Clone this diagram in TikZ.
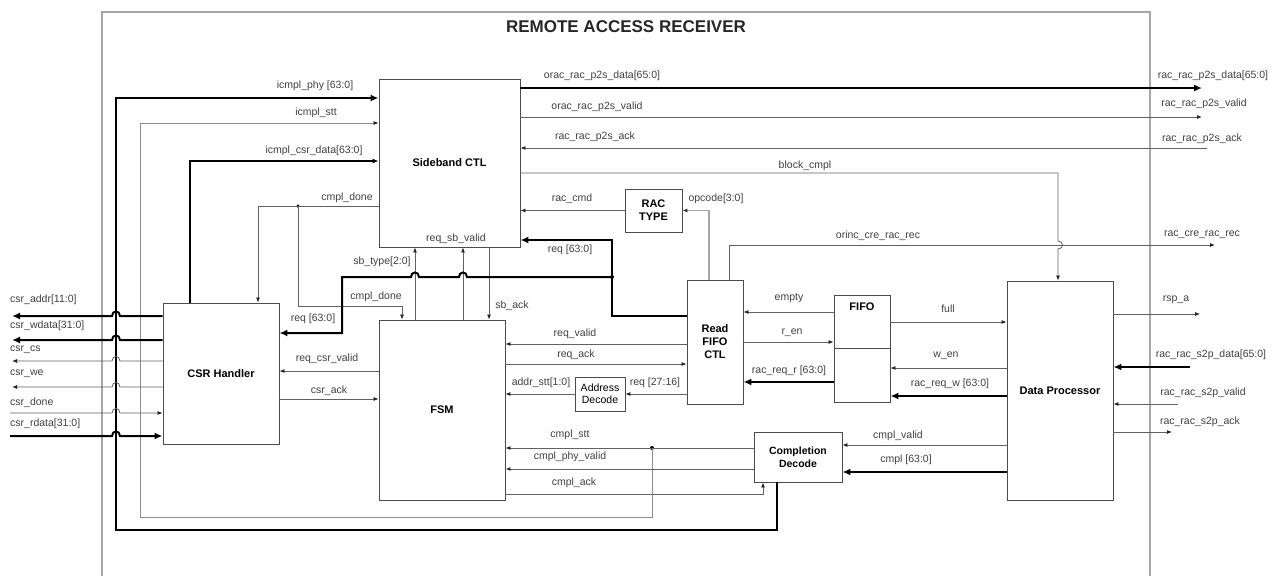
\documentclass[tikz,border=0pt]{standalone}
\usepackage{fontspec}
\setmainfont{Liberation Sans}
\usetikzlibrary{arrows.meta}
\begin{document}
\begin{tikzpicture}[x=1pt,y=-1pt,
 blk/.style={draw=black!70, line width=0.9pt, fill=white, inner sep=0pt, font=\fontsize{11}{13}\selectfont\bfseries, align=center},
 sig/.style={draw=black!62, line width=0.8pt, -{Latex[length=5pt,width=4pt,color=black!85]}},
 sign/.style={draw=black!62, line width=0.8pt},
 lite/.style={draw=black!35, line width=1.2pt},
 bus/.style={draw=black, line width=2pt, -{Latex[length=8pt,width=7pt]}},
 busn/.style={draw=black, line width=2pt},
 lbl/.style={font=\fontsize{10.5}{12}\selectfont, text=black!75, inner sep=0pt},
 dot/.style={circle, fill=black, inner sep=0pt, minimum size=4pt},
 frame/.style={draw=black!35, line width=1.5pt}]
\useasboundingbox (0,0) rectangle (1285,576);
% outer frame
\draw[frame] (102,576) -- (102,12) -- (1150,12) -- (1150,576);
\node[font=\fontsize{17}{20}\selectfont\bfseries, text=black!85] (title) at (626,27) {REMOTE ACCESS RECEIVER};

% blocks
\node[blk, minimum width=141pt, minimum height=168pt] (sb) at (449.5,163) {Sideband CTL};
\node[blk, minimum width=116pt, minimum height=141pt] (csr) at (221,373.5) {CSR Handler};
\node[blk, minimum width=126pt, minimum height=180pt] (fsm) at (442,410) {FSM};
\node[blk, minimum width=57pt, minimum height=43pt] (rac) at (653.5,210.5) {RAC\\TYPE};
\node[blk, minimum width=56pt, minimum height=124pt] (rf) at (715,342) {Read\\FIFO\\CTL};
\node[blk, minimum width=56pt, minimum height=107pt] (fifo) at (862,348.5) {};
\node[font=\fontsize{11}{13}\selectfont\bfseries] (fifol) at (862,307) {FIFO};
\draw[draw=black!70, line width=0.9pt] (fifo.west |- 0,348) -- (fifo.east |- 0,348);
\node[blk, minimum width=106pt, minimum height=219pt] (dp) at (1060,390.5) {Data Processor};
\node[blk, font=\fontsize{10.5}{12}\selectfont, minimum width=50pt, minimum height=34pt] (ad) at (600,394) {Address\\Decode};
\node[blk, font=\fontsize{10.5}{12.5}\selectfont\bfseries, minimum width=88pt, minimum height=50pt] (cd) at (798,457) {Completion\\Decode};
\node[lbl] (rsv) at (456,239) {req\_sb\_valid};

% loops from completion decode
\draw[bus] (cd.south -| 777,0) -- (777,530) -- (116,530) -- (116,98) -- (sb.west |- 0,98);
\node[lbl] (l1) at (315,86) {icmpl\_phy [63:0]};
\node[dot] (j1) at (652,448) {};
\draw[sig, draw=black!45] (j1.center) -- (652,517) -- (140,517) -- (140,123) -- (sb.west |- 0,123);
\node[lbl] (l2) at (316,113) {icmpl\_stt};
\draw[draw=black, line width=1.4pt, -{Latex[length=6pt,width=5pt]}] (csr.north -| 190,0) -- (190,161) -- (sb.west |- 0,161);
\node[lbl] (l3) at (314,151) {icmpl\_csr\_data[63:0]};

% cmpl_done
\node[dot, minimum size=3.5pt] (j2) at (298,206) {};
\draw[sig] (sb.west |- 0,206) -- (258,206) -- (csr.north -| 258,0);
\draw[sig] (j2.center) -- (298,306) -- (402,306) -- (fsm.north -| 402,0);
\node[lbl] (l4) at (347,198) {cmpl\_done};
\node[lbl] (l5) at (376,297) {cmpl\_done};

% sb_type, req_sb_valid, sb_ack
\draw[sig] (fsm.north -| 415,0) -- (sb.south -| 415,0);
\node[lbl] (l6) at (382,262) {sb\_type[2:0]};
\draw[sig] (fsm.north -| 463,0) -- (sb.south -| 463,0);
\draw[sig] (sb.south -| 489,0) -- (fsm.north -| 489,0);
\node[lbl] (l7) at (512,306) {sb\_ack};

% req[63:0]
\node[dot] (j3) at (612,277) {};
\draw[bus] (rf.west |- 0,316) -- (612,316) -- (612,240) -- (sb.east |- 0,240);
\node[lbl] (l8) at (570,250) {req [63:0]};
\draw[bus] (j3.center) -- (467,277) .. controls (467,271) and (459,271) .. (459,277)
  -- (419,277) .. controls (419,271) and (411,271) .. (411,277)
  -- (342,277) -- (342,333) -- (csr.east |- 0,333);
\node[lbl] (l9) at (313,319) {req [63:0]};

% sideband right side
\draw[bus] (sb.east |- 0,88) -- (1202,88);
\node[lbl] (l10) at (602,76) {orac\_rac\_p2s\_data[65:0]};
\node[lbl] (l11) at (1213,76) {rac\_rac\_p2s\_data[65:0]};
\draw[sig] (sb.east |- 0,117) -- (1202,117);
\node[lbl] (l12) at (597,107) {orac\_rac\_p2s\_valid};
\node[lbl] (l13) at (1204,104) {rac\_rac\_p2s\_valid};
\draw[sig] (1207,148) -- (sb.east |- 0,148);
\node[lbl] (l14) at (595,137) {rac\_rac\_p2s\_ack};
\node[lbl] (l15) at (1202,139) {rac\_rac\_p2s\_ack};
\draw[sig] (sb.east |- 0,173) -- (1058,173) -- (1058,241) .. controls (1064,241) and (1064,249) .. (1058,249) -- (dp.north -| 1058,0);
\node[lbl] (l16) at (805,166) {block\_cmpl};

% rac type
\draw[sig] (rac.west) -- (sb.east |- rac.west);
\node[lbl] (l17) at (572,199) {rac\_cmd};
\draw[lite, -{Latex[length=5pt,width=4pt,color=black!85]}] (rf.north -| 709,0) -- (709,210.5) -- (rac.east);
\node[lbl] (l18) at (716,199) {opcode[3:0]};
\draw[sig] (rf.north -| 729,0) -- (729,245) -- (1215,245);
\node[lbl] (l19) at (878,236) {orinc\_cre\_rac\_rec};
\node[lbl] (l20) at (1202,235) {rac\_cre\_rac\_rec};

% read fifo ctl <-> fifo
\draw[sig] (fifo.west |- 0,312) -- (rf.east |- 0,312);
\node[lbl] (l21) at (789,298) {empty};
\draw[sig] (rf.east |- 0,342) -- (fifo.west |- 0,342);
\node[lbl] (l22) at (792,333) {r\_en};
\draw[bus] (fifo.west |- 0,382) -- (rf.east |- 0,382);
\node[lbl] (l23) at (789,371) {rac\_req\_r [63:0]};

% fifo <-> data processor
\draw[sig] (fifo.east |- 0,322) -- (dp.west |- 0,322);
\node[lbl] (l24) at (948,309) {full};
\draw[sig] (dp.west |- 0,368) -- (fifo.east |- 0,368);
\node[lbl] (l25) at (946,356) {w\_en};
\draw[bus] (dp.west |- 0,396) -- (fifo.east |- 0,396);
\node[lbl] (l26) at (950,384) {rac\_req\_w [63:0]};

% data processor right side
\draw[sig] (dp.east |- 0,314) -- (1200,314);
\node[lbl] (l27) at (1176,300) {rsp\_a};
\draw[bus] (1190,367) -- (dp.east |- 0,367);
\node[lbl] (l28) at (1211,355) {rac\_rac\_s2p\_data[65:0]};
\draw[sig] (1178,404) -- (dp.east |- 0,404);
\node[lbl] (l29) at (1203,393) {rac\_rac\_s2p\_valid};
\draw[sig] (dp.east |- 0,432) -- (1172,432);
\node[lbl] (l30) at (1200,422) {rac\_rac\_s2p\_ack};

% data processor <-> completion decode
\draw[sig] (dp.west |- 0,445) -- (cd.east |- 0,445);
\node[lbl] (l31) at (898,436) {cmpl\_valid};
\draw[bus] (dp.west |- 0,472) -- (cd.east |- 0,472);
\node[lbl] (l32) at (906,460) {cmpl [63:0]};

% completion decode <-> fsm
\draw[sig] (cd.west |- 0,448) -- (fsm.east |- 0,448);
\node[lbl] (l33) at (570,435) {cmpl\_stt};
\draw[sig, line width=1pt] (cd.west |- 0,469) -- (fsm.east |- 0,469);
\node[lbl] (l34) at (570,457) {cmpl\_phy\_valid};
\draw[sig] (fsm.east |- 0,494) -- (763,494) -- (cd.south -| 763,0);
\node[lbl] (l35) at (574,483) {cmpl\_ack};

% fsm <-> read fifo ctl
\draw[sig] (rf.west |- 0,344) -- (fsm.east |- 0,344);
\node[lbl] (l36) at (575,334) {req\_valid};
\draw[sig] (fsm.east |- 0,364) -- (rf.west |- 0,364);
\node[lbl] (l37) at (576,355) {req\_ack};
\draw[sig] (ad.west) -- (fsm.east |- ad.west);
\node[lbl] (l38) at (541,383) {addr\_stt[1:0]};
\draw[sig] (rf.west |- ad.east) -- (ad.east);
\node[lbl] (l39) at (655,383) {req [27:16]};

% fsm <-> csr
\draw[sig] (fsm.west |- 0,371) -- (csr.east |- 0,371);
\node[lbl] (l40) at (327,359) {req\_csr\_valid};
\draw[sig] (csr.east |- 0,399) -- (fsm.west |- 0,399);
\node[lbl] (l41) at (329,391) {csr\_ack};

% csr left side
\draw[bus] (csr.west |- 0,316) -- (120,316) .. controls (120,310) and (112,310) .. (112,316) -- (12,316);
\node[lbl, anchor=west] (l42) at (10,300) {csr\_addr[11:0]};
\draw[bus] (csr.west |- 0,340) -- (120,340) .. controls (120,334) and (112,334) .. (112,340) -- (12,340);
\node[lbl, anchor=west] (l43) at (10,326) {csr\_wdata[31:0]};
\draw[sig] (csr.west |- 0,361) -- (120,361) .. controls (120,355) and (112,355) .. (112,361) -- (12,361);
\node[lbl, anchor=west] (l44) at (10,350) {csr\_cs};
\draw[sig] (csr.west |- 0,387) -- (120,387) .. controls (120,381) and (112,381) .. (112,387) -- (12,387);
\node[lbl, anchor=west] (l45) at (10,374) {csr\_we};
\draw[sig] (10,413) -- (112,413) .. controls (112,407) and (120,407) .. (120,413) -- (csr.west |- 0,413);
\node[lbl, anchor=west] (l46) at (10,403) {csr\_done};
\draw[bus] (10,436) -- (112,436) .. controls (112,430) and (120,430) .. (120,436) -- (csr.west |- 0,436);
\node[lbl, anchor=west] (l47) at (10,424) {csr\_rdata[31:0]};
\end{tikzpicture}
\end{document}
